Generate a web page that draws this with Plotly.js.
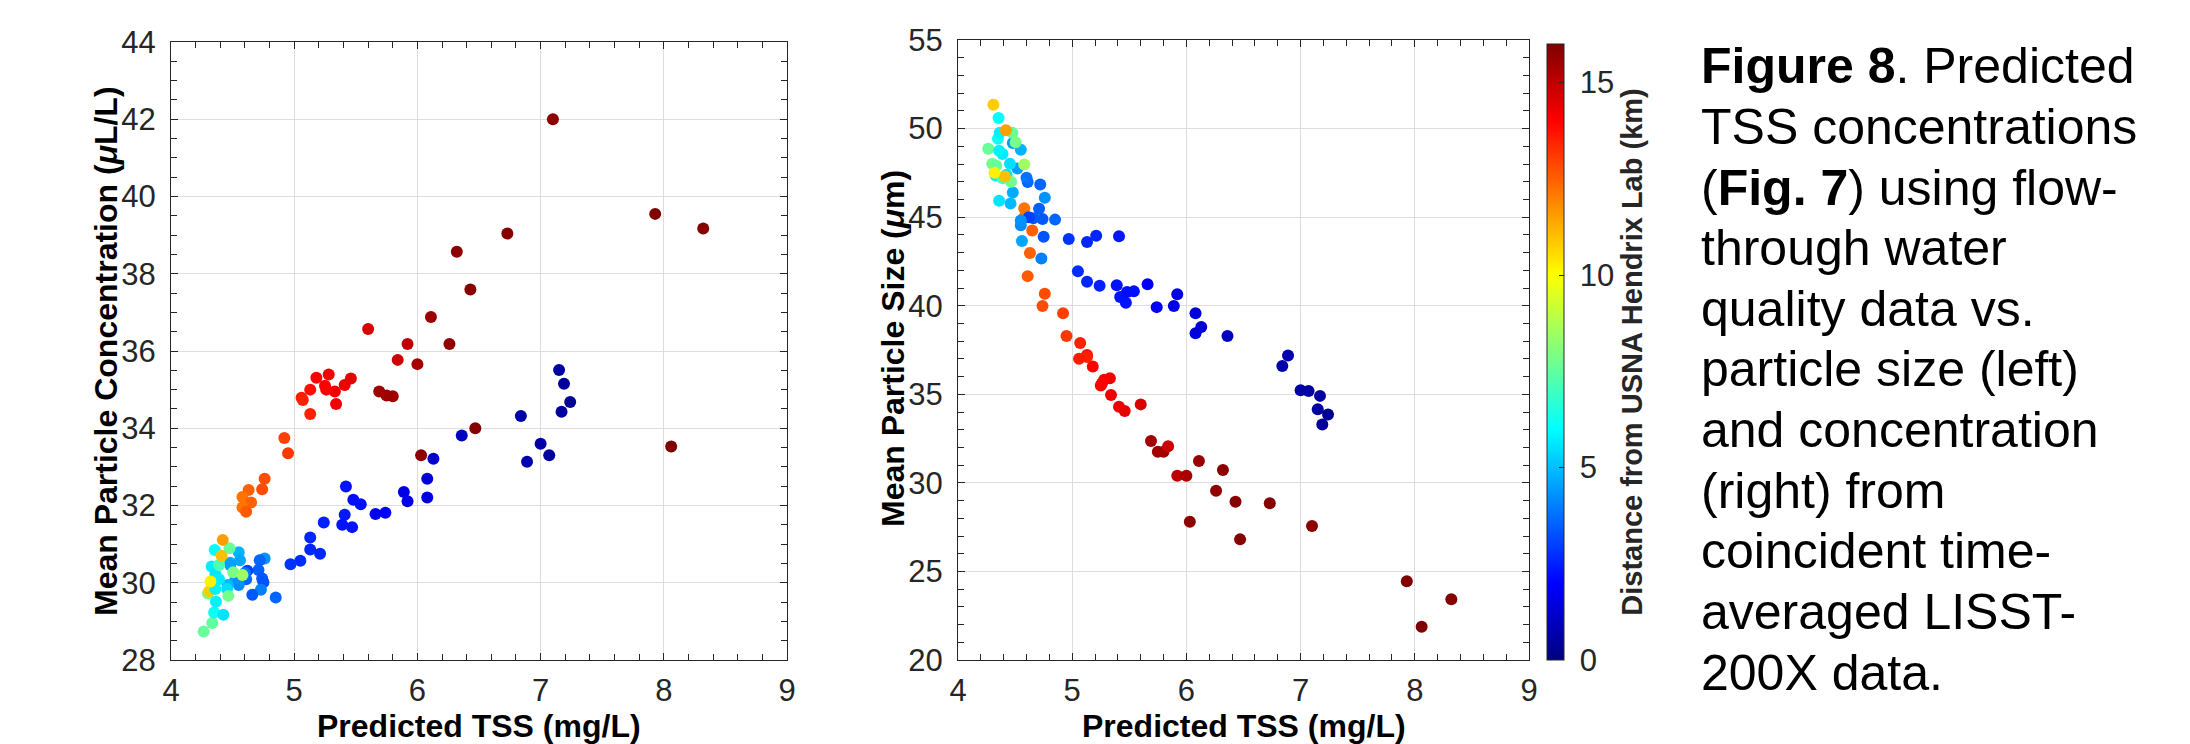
<!DOCTYPE html>
<html>
<head>
<meta charset="utf-8">
<script src="https://cdn.plot.ly/plotly-3.0.1.min.js"></script>
<style>
html,body{margin:0;padding:0;background:#ffffff;}
#chart{width:2190px;height:744px;}
</style>
</head>
<body>
<div id="chart"></div>
<script>
// ---- data ----
const tss = [
  7.10, 7.93, 8.32, 6.73, 6.32, 6.43, 6.11, 6.26, 6.47, 6.03, 8.06, 5.69, 5.75, 5.80, 5.92, 5.84, 6.00,
  5.60, 5.46, 5.41, 5.34, 5.33, 5.28, 5.26, 5.25, 5.18, 5.13, 5.13, 5.06, 5.07,
  4.92, 4.95, 4.76, 4.74, 4.63, 4.58, 4.65, 4.58, 4.61,
  7.15, 7.19, 7.24, 7.17, 6.84, 6.36, 7.00, 7.07, 6.89, 6.13, 6.08, 6.08, 5.89, 5.92, 5.66, 5.74, 5.42, 5.48, 5.54, 5.41, 5.39, 5.47, 5.24, 5.13, 5.13, 5.21, 5.05, 4.97, 4.85,
  4.76, 4.72, 4.71, 4.74, 4.75, 4.73, 4.66, 4.62, 4.61, 4.60, 4.52, 4.55, 4.55, 4.56, 4.55, 4.48, 4.48, 4.46,
  4.265, 4.30, 4.31, 4.335, 4.35, 4.365, 4.425, 4.355, 4.33, 4.36, 4.39, 4.36, 4.455, 4.465, 4.475, 4.505, 4.39, 4.41, 4.32, 4.42, 4.58
];
const concentration = [
  42.00, 39.55, 39.17, 39.04, 38.57, 37.59, 36.88, 36.18, 34.00, 33.30, 33.53, 34.95, 34.85, 34.83, 36.18, 35.77, 35.66,
  36.57, 35.29, 35.12, 34.63, 34.95, 35.39, 35.00, 35.10, 35.31, 35.00, 34.37, 34.79, 34.73,
  33.75, 33.35, 32.69, 32.42, 32.40, 32.22, 32.08, 31.95, 31.84,
  35.51, 35.15, 34.68, 34.43, 34.32, 33.81, 33.60, 33.30, 33.13, 33.21, 32.69, 32.21, 32.35, 32.11, 31.78, 31.81, 32.49, 32.15, 32.03, 31.76, 31.50, 31.44, 31.56, 31.17, 30.86, 30.75, 30.57, 30.48, 29.62,
  30.63, 30.58, 30.33, 30.11, 30.01, 29.82, 29.69, 30.31, 30.09, 30.25, 30.06, 29.94, 30.79, 30.58, 30.10, 30.52, 30.46, 29.94,
  28.74, 29.72, 29.78, 28.96, 29.23, 29.51, 29.17, 30.85, 30.42, 30.23, 30.09, 29.84, 29.84, 29.66, 30.89, 30.27, 30.46, 30.70, 30.03, 31.11, 30.20
];
const particleSize = [
  27.56, 24.45, 23.43, 28.85, 30.73, 28.93, 31.24, 29.55, 26.81, 27.80, 21.88, 32.36, 31.75, 31.75, 30.40, 32.07, 30.40,
  34.43, 34.05, 34.29, 34.96, 35.90, 35.82, 35.61, 35.50, 36.57, 37.22, 37.10, 37.00, 37.89,
  39.58, 38.29, 40.68, 39.98, 42.98, 45.50, 44.24, 45.00, 41.67,
  34.16, 33.30, 33.86, 34.91, 36.60, 38.29, 35.23, 35.18, 37.19, 38.80, 39.58, 38.45, 39.98, 40.65, 41.21, 39.92, 40.49, 40.78, 40.81, 43.92, 41.16, 40.17, 41.13, 43.60, 41.35, 43.95, 41.94, 43.76, 44.86,
  46.09, 46.84, 45.48, 44.89, 43.89, 42.66, 44.94, 44.99, 46.98, 47.22, 47.75, 44.54, 48.80, 43.65, 44.81, 46.39, 49.18, 45.77,
  48.86, 48.02, 51.35, 47.90, 49.42, 49.77, 47.40, 50.60, 47.35, 45.93, 48.56, 48.75, 48.02, 47.00, 49.77, 49.23, 47.20, 47.30, 47.50, 49.90, 47.97
];
const distanceKm = [
  15.8, 16.0, 15.9, 15.9, 15.8, 15.9, 15.6, 15.7, 15.9, 15.8, 16.0, 15.5, 15.5, 15.5, 15.0, 14.8, 15.4,
  14.6, 14.4, 14.3, 14.2, 14.2, 14.1, 14.0, 14.0, 14.0, 13.8, 13.5, 13.6, 13.5,
  13.0, 13.1, 12.8, 12.8, 12.5, 12.2, 12.5, 12.2, 12.6,
  0.5, 0.4, 0.3, 0.5, 0.6, 1.0, 0.6, 0.5, 0.7, 1.3, 1.4, 1.5, 1.6, 1.6, 1.9, 2.0, 2.3, 2.2, 2.2, 2.4, 2.3, 2.3, 2.5, 2.6, 2.6, 2.6, 2.7, 2.8, 3.6,
  4.3, 3.6, 3.5, 3.4, 3.3, 4.0, 3.4, 3.0, 3.6, 3.8, 4.5, 4.2, 4.8, 4.6, 4.3, 4.7, 4.5, 4.9,
  7.6, 7.8, 10.8, 7.5, 6.2, 5.8, 5.6, 6.0, 5.7, 5.6, 5.7, 5.8, 5.5, 7.8, 7.6, 7.9, 7.2, 11.0, 10.2, 11.5, 8.5
];
const xTicks = [4, 5, 6, 7, 8, 9];
const concTicks = [28, 30, 32, 34, 36, 38, 40, 42, 44];
const sizeTicks = [20, 25, 30, 35, 40, 45, 50, 55];
const colorTicks = [0, 5, 10, 15];
const colorRange = [0, 16];
const xTitle = 'Predicted TSS (mg/L)';
const concTitle = 'Mean Particle Concentration (<i>μ</i>L/L)';
const sizeTitle = 'Mean Particle Size (<i>μ</i>m)';
const colorTitle = 'Distance from USNA Hendrix Lab (km)';
const captionLines = [
  '<b>Figure 8</b>. Predicted',
  'TSS concentrations',
  '(<b>Fig. 7</b>) using flow-',
  'through water',
  'quality data vs.',
  'particle size (left)',
  'and concentration',
  '(right) from',
  'coincident time-',
  'averaged LISST-',
  '200X data.'
];

// ---- styling / layout ----
const W = 2190, H = 744;
const FONT = '"Liberation Sans", Arial, Helvetica, sans-serif';
const AXC = '#262626';
const jet = [
  [0, 'rgb(0,0,128)'], [0.125, 'rgb(0,0,255)'], [0.375, 'rgb(0,255,255)'],
  [0.625, 'rgb(255,255,0)'], [0.875, 'rgb(255,0,0)'], [1, 'rgb(128,0,0)']
];
const px = v => v / W;
const py = v => 1 - v / H;

function axis(ticks, minorStep, domain, anchor, isX) {
  return {
    domain: domain, anchor: anchor,
    range: [ticks[0], ticks[ticks.length - 1]],
    tickmode: 'linear', tick0: ticks[0], dtick: ticks[1] - ticks[0],
    ticks: 'inside', ticklen: 7, tickwidth: 1, tickcolor: AXC,
    showline: true, linecolor: AXC, linewidth: 1, mirror: 'allticks',
    showgrid: true, gridcolor: '#dedede', gridwidth: 1, zeroline: false,
    tickfont: {family: FONT, size: 31, color: AXC},
    ticklabelstandoff: isX ? 3 : 8,
    minor: {tick0: ticks[0], dtick: minorStep, ticks: 'inside', ticklen: 6, tickwidth: 1, tickcolor: AXC, showgrid: false},
    fixedrange: true, automargin: false
  };
}

const marker = {size: 12, color: distanceKm, coloraxis: 'coloraxis', line: {width: 0}, opacity: 1};
const traces = [
  {type: 'scatter', mode: 'markers', x: tss, y: concentration, xaxis: 'x', yaxis: 'y', marker: marker, hoverinfo: 'skip', cliponaxis: false},
  {type: 'scatter', mode: 'markers', x: tss, y: particleSize, xaxis: 'x2', yaxis: 'y2', marker: marker, hoverinfo: 'skip', cliponaxis: false}
];

const titleFont = {family: FONT, size: 32, color: '#000000'};
const annotations = [
  {text: '<b>' + xTitle + '</b>', x: px(479), y: py(726), xanchor: 'center', yanchor: 'middle'},
  {text: '<b>' + xTitle + '</b>', x: px(1243.5), y: py(726), xanchor: 'center', yanchor: 'middle'},
  {text: '<b>' + concTitle + '</b>', x: px(106), y: py(351), xanchor: 'center', yanchor: 'middle', textangle: -90},
  {text: '<b>' + sizeTitle + '</b>', x: px(893), y: py(349), xanchor: 'center', yanchor: 'middle', textangle: -90}
].map(a => Object.assign({xref: 'paper', yref: 'paper', showarrow: false, font: titleFont}, a));

captionLines.forEach((line, i) => {
  annotations.push({
    text: line, xref: 'paper', yref: 'paper', x: px(1699), y: py(66.5 + 60.6 * i),
    xanchor: 'left', yanchor: 'middle', align: 'left', showarrow: false,
    font: {family: FONT, size: 50, color: '#000000'}
  });
});

const layout = {
  width: W, height: H,
  margin: {l: 0, r: 0, t: 0, b: 0, pad: 0},
  paper_bgcolor: '#ffffff', plot_bgcolor: '#ffffff',
  showlegend: false,
  font: {family: FONT, color: AXC},
  xaxis: axis(xTicks, 0.2, [px(171), px(787)], 'y', true),
  yaxis: axis(concTicks, 0.5, [py(660), py(42)], 'x', false),
  xaxis2: axis(xTicks, 0.2, [px(958), px(1529)], 'y2', true),
  yaxis2: axis(sizeTicks, 1, [py(660), py(40)], 'x2', false),
  coloraxis: {
    cmin: colorRange[0], cmax: colorRange[1], colorscale: jet,
    colorbar: {
      x: px(1547), xanchor: 'left', y: py(352), yanchor: 'middle',
      len: 616, lenmode: 'pixels', thickness: 17, thicknessmode: 'pixels',
      xpad: 0, ypad: 0, outlinewidth: 1, outlinecolor: AXC,
      tickmode: 'array', tickvals: colorTicks, ticktext: colorTicks.map(v => '\u00a0' + v),
      ticks: 'inside', ticklen: 5, tickcolor: AXC,
      tickfont: {family: FONT, size: 31, color: AXC},
      title: {text: '<b>' + colorTitle + '</b>', side: 'right', font: {family: FONT, size: 29, color: AXC}}
    }
  },
  annotations: annotations
};

Plotly.newPlot('chart', traces, layout, {staticPlot: true, displayModeBar: false});
</script>
</body>
</html>
